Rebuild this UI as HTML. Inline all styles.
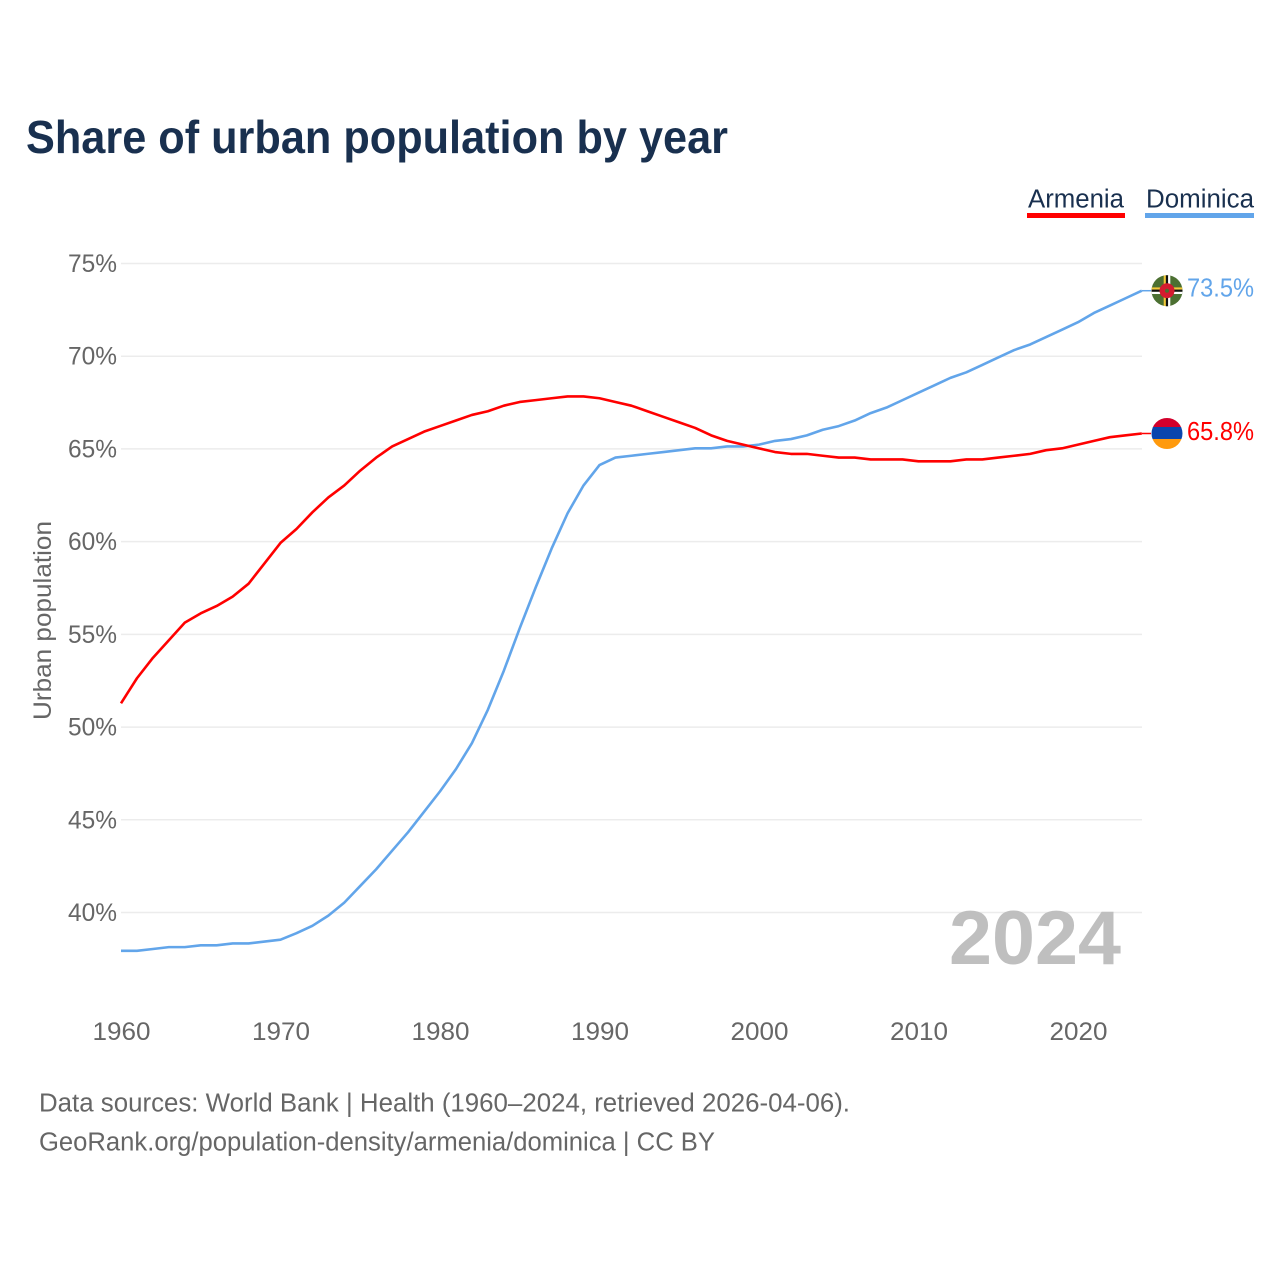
<!DOCTYPE html>
<html lang="en">
<head>
<meta charset="utf-8">
<title>Share of urban population by year</title>
<style>
html,body{margin:0;padding:0;background:#fff;}
svg{display:block;font-family:"Liberation Sans",sans-serif;}
</style>
</head>
<body>
<svg id="chart" xmlns="http://www.w3.org/2000/svg" width="1280" height="1280" viewBox="0 0 1280 1280">
  <rect x="0" y="0" width="1280" height="1280" fill="#ffffff"/>
  <text x="26" y="153" font-size="46" font-weight="700" fill="#19304f" textLength="702" lengthAdjust="spacingAndGlyphs">Share of urban population by year</text>

  <g>
    <g>
      <text x="1028" y="207.5" font-size="25.5" fill="#19304f" textLength="96" lengthAdjust="spacingAndGlyphs">Armenia</text>
      <rect x="1027" y="213" width="98" height="5" fill="#ff0000"/>
    </g>
    <g>
      <text x="1146" y="207.5" font-size="25.5" fill="#19304f" textLength="108" lengthAdjust="spacingAndGlyphs">Dominica</text>
      <rect x="1145" y="213" width="109" height="5" fill="#62a5ea"/>
    </g>
  </g>

  <g id="grid"></g>
  <g id="yticks"></g>
  <g id="xticks"></g>
  <text transform="translate(51,720) rotate(-90)" font-size="25" fill="#666666" textLength="199" lengthAdjust="spacingAndGlyphs">Urban population</text>

  <text x="949" y="964" font-size="76" font-weight="700" fill="#bfbfbf" textLength="172" lengthAdjust="spacingAndGlyphs">2024</text>

  <g id="series"></g>
  <g id="markers"></g>

  <g>
    <text x="39" y="1111.5" font-size="25.5" fill="#666666" textLength="811" lengthAdjust="spacingAndGlyphs">Data sources: World Bank | Health (1960–2024, retrieved 2026-04-06).</text>
    <text x="39" y="1150.5" font-size="25.5" fill="#666666" textLength="676" lengthAdjust="spacingAndGlyphs">GeoRank.org/population-density/armenia/dominica | CC BY</text>
  </g>
</svg>
<script>
const years = [1960,1961,1962,1963,1964,1965,1966,1967,1968,1969,1970,1971,1972,1973,1974,1975,1976,1977,1978,1979,1980,1981,1982,1983,1984,1985,1986,1987,1988,1989,1990,1991,1992,1993,1994,1995,1996,1997,1998,1999,2000,2001,2002,2003,2004,2005,2006,2007,2008,2009,2010,2011,2012,2013,2014,2015,2016,2017,2018,2019,2020,2021,2022,2023,2024];
const armeniaValues = [51.25,52.6,53.7,54.65,55.6,56.1,56.5,57.0,57.7,58.8,59.9,60.65,61.55,62.35,63.0,63.8,64.5,65.1,65.5,65.9,66.2,66.5,66.8,67.0,67.3,67.5,67.6,67.7,67.8,67.8,67.7,67.5,67.3,67.0,66.7,66.4,66.1,65.7,65.4,65.2,65.0,64.8,64.7,64.7,64.6,64.5,64.5,64.4,64.4,64.4,64.3,64.3,64.3,64.4,64.4,64.5,64.6,64.7,64.9,65.0,65.2,65.4,65.6,65.7,65.8];
const dominicaValues = [37.9,37.9,38.0,38.1,38.1,38.2,38.2,38.3,38.3,38.4,38.5,38.85,39.25,39.8,40.5,41.4,42.3,43.3,44.3,45.4,46.5,47.7,49.1,50.9,53.0,55.3,57.5,59.6,61.5,63.0,64.1,64.5,64.6,64.7,64.8,64.9,65.0,65.0,65.1,65.1,65.2,65.4,65.5,65.7,66.0,66.2,66.5,66.9,67.2,67.6,68.0,68.4,68.8,69.1,69.5,69.9,70.3,70.6,71.0,71.4,71.8,72.3,72.7,73.1,73.5];
const yTickValues = [40,45,50,55,60,65,70,75];
const xTickValues = [1960,1970,1980,1990,2000,2010,2020];

const NS = 'http://www.w3.org/2000/svg';
const LINE_SHIFT = -0.6;
function xScale(year){ return 121 + (year - 1960) * (1141.8 - 121) / 64; }
function yScale(v){ return 912.5 - (v - 40) * (912.5 - 263.5) / 35; }
function make(tag, parent, attrs){
  const el = document.createElementNS(NS, tag);
  for (const k in attrs) el.setAttribute(k, attrs[k]);
  parent.appendChild(el);
  return el;
}

const grid = document.getElementById('grid');
const yticks = document.getElementById('yticks');
yTickValues.forEach(function(v){
  const line = make('line', grid, {x1:121, x2:1142, y1:yScale(v), y2:yScale(v), stroke:'#ececec', 'stroke-width':1.5});
  
  
  const t = make('text', yticks, {x:68, y:yScale(v)+8.5, 'font-size':25, fill:'#666666', textLength:49, lengthAdjust:'spacingAndGlyphs'});
  
  
  t.textContent = v + '%';
});

const xticks = document.getElementById('xticks');
xTickValues.forEach(function(y){
  const t = make('text', xticks, {x:xScale(y)-28.5, y:1040, 'font-size':25, fill:'#666666', textLength:58, lengthAdjust:'spacingAndGlyphs'});
  
  
  t.textContent = y;
});

function linePoints(values){
  return values.map(function(v,i){ return xScale(years[i]).toFixed(2) + ',' + (yScale(v) + LINE_SHIFT).toFixed(2); }).join(' ');
}
const series = document.getElementById('series');
const lineDominica = make('polyline', series, {points:linePoints(dominicaValues), fill:'none', stroke:'#62a5ea', 'stroke-width':2.6, 'stroke-linejoin':'round'});


const lineArmenia = make('polyline', series, {points:linePoints(armeniaValues), fill:'none', stroke:'#ff0000', 'stroke-width':2.6, 'stroke-linejoin':'round'});



const markers = document.getElementById('markers');
const FX = 1167, R = 15.5;

/* Armenia end marker */
const aY = yScale(armeniaValues[armeniaValues.length-1]) + LINE_SHIFT;
const aConn = make('line', markers, {x1:1141.8, x2:1151, y1:aY, y2:aY, stroke:'#ff0000', 'stroke-width':1.5});


const aFlag = make('g', markers, {transform:'translate(' + FX + ',' + aY + ')'});


make('clipPath', aFlag, {id:'clipA'}).appendChild(make('circle', aFlag, {r:R}));
const aBands = make('g', aFlag, {'clip-path':'url(#clipA)'});
make('rect', aBands, {x:-16, y:-16, width:32, height:10, fill:'#d3002c'});
make('rect', aBands, {x:-16, y:-6.5, width:32, height:12, fill:'#0a45ad'});
make('rect', aBands, {x:-16, y:5.5, width:32, height:11, fill:'#ff9a0d'});
const aLabel = make('text', markers, {x:1187, y:aY+6.3, 'font-size':25.5, fill:'#ff0000', textLength:67, lengthAdjust:'spacingAndGlyphs'});


aLabel.textContent = armeniaValues[armeniaValues.length-1].toFixed(1) + '%';

/* Dominica end marker */
const dY = yScale(dominicaValues[dominicaValues.length-1]) + LINE_SHIFT;
const dConn = make('line', markers, {x1:1141.8, x2:1151, y1:dY, y2:dY, stroke:'#62a5ea', 'stroke-width':1.5});


const dFlag = make('g', markers, {transform:'translate(' + FX + ',' + dY + ')'});


make('clipPath', dFlag, {id:'clipD'}).appendChild(make('circle', dFlag, {r:R}));
const dArt = make('g', dFlag, {'clip-path':'url(#clipD)'});
make('rect', dArt, {x:-16, y:-16, width:32, height:32, fill:'#4c7032'});
make('rect', dArt, {x:-3.3, y:-16, width:2.2, height:32, fill:'#f4c93a'});
make('rect', dArt, {x:-1.1, y:-16, width:2.2, height:32, fill:'#111111'});
make('rect', dArt, {x:1.1, y:-16, width:2.2, height:32, fill:'#ffffff'});
make('rect', dArt, {x:-16, y:-3.3, width:32, height:2.2, fill:'#f4c93a'});
make('rect', dArt, {x:-16, y:-1.1, width:32, height:2.2, fill:'#111111'});
make('rect', dArt, {x:-16, y:1.1, width:32, height:2.2, fill:'#ffffff'});
make('circle', dArt, {r:7.5, fill:'#d41c30'});
make('circle', dArt, {r:2, fill:'#4c7032'});
const dLabel = make('text', markers, {x:1187, y:dY+6, 'font-size':25.5, fill:'#62a5ea', textLength:67, lengthAdjust:'spacingAndGlyphs'});


dLabel.textContent = dominicaValues[dominicaValues.length-1].toFixed(1) + '%';
</script>
</body>
</html>
